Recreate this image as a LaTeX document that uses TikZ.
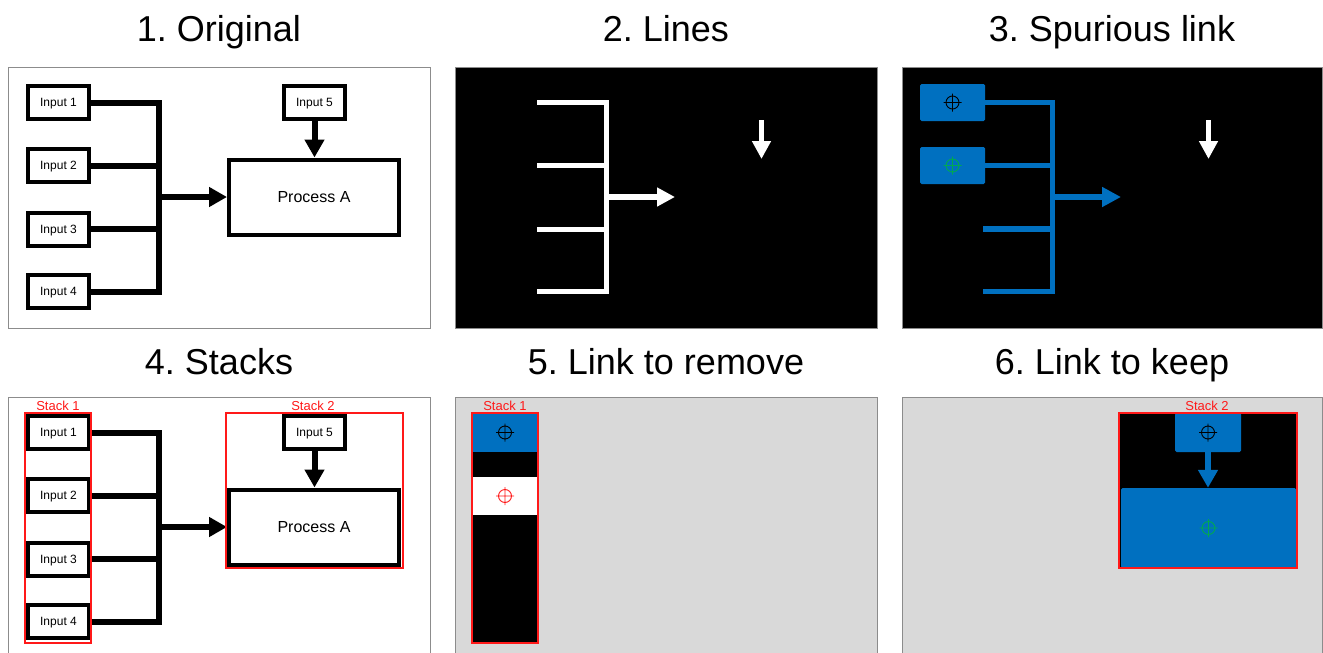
\documentclass[tikz,border=0pt]{standalone}
\usepackage{fontspec}
\setmainfont{Liberation Sans}
\usetikzlibrary{arrows.meta}
\definecolor{mblue}{RGB}{0,112,192}
\definecolor{frameg}{RGB}{140,140,140}
\definecolor{bgg}{RGB}{217,217,217}
\definecolor{sred}{RGB}{255,25,25}
\definecolor{xgreen}{RGB}{0,170,80}
\frenchspacing
\begin{document}
\begin{tikzpicture}[x=1pt,y=-1pt,
  title/.style={anchor=base,font=\fontsize{36}{40}\selectfont},
  frame/.style={draw=frameg,line width=0.9pt},
  inbox/.style={draw=black,line width=4pt,fill=white,minimum width=61pt,minimum height=33pt,inner sep=0pt,text depth=0pt,font=\fontsize{12}{14}\selectfont},
  procbox/.style={draw=black,line width=4pt,fill=white,minimum width=170pt,minimum height=75pt,inner sep=0pt,text depth=0pt,font=\fontsize{16}{18}\selectfont},
  bluebox/.style={fill=mblue,rounded corners=1.5pt,inner sep=0pt},
  bus/.style={line width=6pt,line join=miter},
  arr/.style={line width=6pt,-{Triangle[length=18pt,width=19pt]}},
  wbus/.style={white,line width=5pt,line join=miter},
  warr/.style={white,line width=5.5pt,-{Triangle[length=18pt,width=18pt]}},
  stackbox/.style={draw=sred,line width=1.5pt},
  stacklabel/.style={anchor=base,text=sred,font=\fontsize{13}{15}\selectfont},
  xhair/.pic={\draw[line width=0.9pt] (0,0) circle[radius=6.5pt] (-9,0) -- (9,0) (0,-9) -- (0,9);}
]
\clip (0,0) rectangle (1323,653);
\fill[white] (0,0) rectangle (1323,653);

% ---------- titles ----------
\node[title] (t1) at (219,41.5) {1. Original};
\node[title] (t2) at (666,41.5) {2. Lines};
\node[title] (t3) at (1112,41.5) {3. Spurious link};
\node[title] (t4) at (219,374.5) {4. Stacks};
\node[title] (t5) at (666,374.5) {5. Link to remove};
\node[title] (t6) at (1112,374.5) {6. Link to keep};

% ---------- panel 1 ----------
\draw[frame] (8,67) rectangle (430,328);
\coordinate (p1j) at (158.5,197);
\node[inbox] (p1i1) at (58.5,102.5) {Input 1};
\node[inbox] (p1i2) at (58.5,165.5) {Input 2};
\node[inbox] (p1i3) at (58.5,229) {Input 3};
\node[inbox] (p1i4) at (58.5,291.5) {Input 4};
\node[inbox] (p1i5) at (314.5,102.5) {Input 5};
\node[procbox] (p1p) at (314,197) {Process A};
\draw[bus] (p1i1.east) -| (p1j);
\draw[bus] (p1i2.east) -| (p1j);
\draw[bus] (p1i3.east) -| (p1j);
\draw[bus] (p1i4.east) -| (p1j);
\draw[arr] (p1j) -- (p1p.west);
\draw[arr] (p1i5.south) -- (p1i5.south |- p1p.north);

% ---------- panel 2 ----------
\draw[frame,fill=black] (455,67) rectangle (877,328);
\coordinate (p2a) at (537,102.5);
\coordinate (p2b) at (537,165.5);
\coordinate (p2c) at (537,229);
\coordinate (p2d) at (537,291.5);
\coordinate (p2j) at (606,197);
\coordinate (p2t) at (675,197);
\coordinate (p2s) at (761.5,120);
\coordinate (p2e) at (761.5,159);
\draw[wbus] (p2a) -| (p2j);
\draw[wbus] (p2b) -| (p2j);
\draw[wbus] (p2c) -| (p2j);
\draw[wbus] (p2d) -| (p2j);
\draw[warr] (p2j) -- (p2t);
\draw[warr] (p2s) -- (p2e);

% ---------- panel 3 ----------
\draw[frame,fill=black] (902,67) rectangle (1322.5,328);
\coordinate (p3c) at (983,229);
\coordinate (p3d) at (983,291.5);
\coordinate (p3j) at (1052.5,197);
\coordinate (p3t) at (1121,197);
\coordinate (p3s) at (1208.5,120);
\coordinate (p3e) at (1208.5,159);
\begin{scope}[mblue]
\draw[bus,line width=5.5pt] (984,102.5) -| (p3j);
\draw[bus,line width=5.5pt] (984,165.5) -| (p3j);
\draw[bus,line width=5.5pt] (p3c) -| (p3j);
\draw[bus,line width=5.5pt] (p3d) -| (p3j);
\draw[line width=5.5pt,-{Triangle[length=19pt,width=19pt]}] (p3j) -- (p3t);
\end{scope}
\node[bluebox,minimum width=65pt,minimum height=37pt] (p3b1) at (952.5,102.5) {};
\node[bluebox,minimum width=65pt,minimum height=37pt] (p3b2) at (952.5,165.5) {};
\pic[black] at (p3b1) {xhair};
\pic[xgreen] at (p3b2) {xhair};
\draw[warr] (p3s) -- (p3e);

% ---------- panel 4 ----------
\draw[frame] (8,397) rectangle (430,660);
\begin{scope}[shift={(0,330)}]
\coordinate (p4j) at (158.5,197);
\node[inbox] (p4i1) at (58.5,102.5) {Input 1};
\node[inbox] (p4i2) at (58.5,165.5) {Input 2};
\node[inbox] (p4i3) at (58.5,229) {Input 3};
\node[inbox] (p4i4) at (58.5,291.5) {Input 4};
\node[inbox] (p4i5) at (314.5,102.5) {Input 5};
\node[procbox] (p4p) at (314,197) {Process A};
\draw[bus] (p4i1.east) -| (p4j);
\draw[bus] (p4i2.east) -| (p4j);
\draw[bus] (p4i3.east) -| (p4j);
\draw[bus] (p4i4.east) -| (p4j);
\draw[arr] (p4j) -- (p4p.west);
\draw[arr] (p4i5.south) -- (p4i5.south |- p4p.north);
\draw[stackbox] (25,83) rectangle (91,313);
\draw[stackbox] (226,83) rectangle (403,238);
\node[stacklabel] (p4l1) at (58,80.7) {Stack 1};
\node[stacklabel] (p4l2) at (313,80.7) {Stack 2};
\end{scope}

% ---------- panel 5 ----------
\draw[frame,fill=bgg] (455,397) rectangle (877,660);
\fill[black] (472,413) rectangle (538,643);
\fill[mblue] (472,413) rectangle (538,452);
\fill[white] (472,477) rectangle (538,515);
\draw[stackbox] (472,413) rectangle (538,643);
\coordinate (p5x1) at (505,432.5);
\coordinate (p5x2) at (505,496);
\pic[black] at (p5x1) {xhair};
\pic[sred] at (p5x2) {xhair};
\node[stacklabel] (p5l) at (505,410.7) {Stack 1};

% ---------- panel 6 ----------
\draw[frame,fill=bgg] (902,397) rectangle (1322.5,660);
\fill[black] (1119,413) rectangle (1297,568);
\node[bluebox,minimum width=66pt,minimum height=39pt] (p6i5) at (1208,432.5) {};
\node[bluebox,minimum width=175pt,minimum height=80pt] (p6p) at (1208.5,528) {};
\draw[mblue,line width=6pt,-{Triangle[length=18pt,width=19pt]}] (p6i5.south) -- (p6i5.south |- p6p.north);
\draw[stackbox] (1119,413) rectangle (1297,568);
\pic[black] at (p6i5) {xhair};
\pic[xgreen] at (p6p) {xhair};
\node[stacklabel] (p6l) at (1207,410.7) {Stack 2};
\end{tikzpicture}
\end{document}
